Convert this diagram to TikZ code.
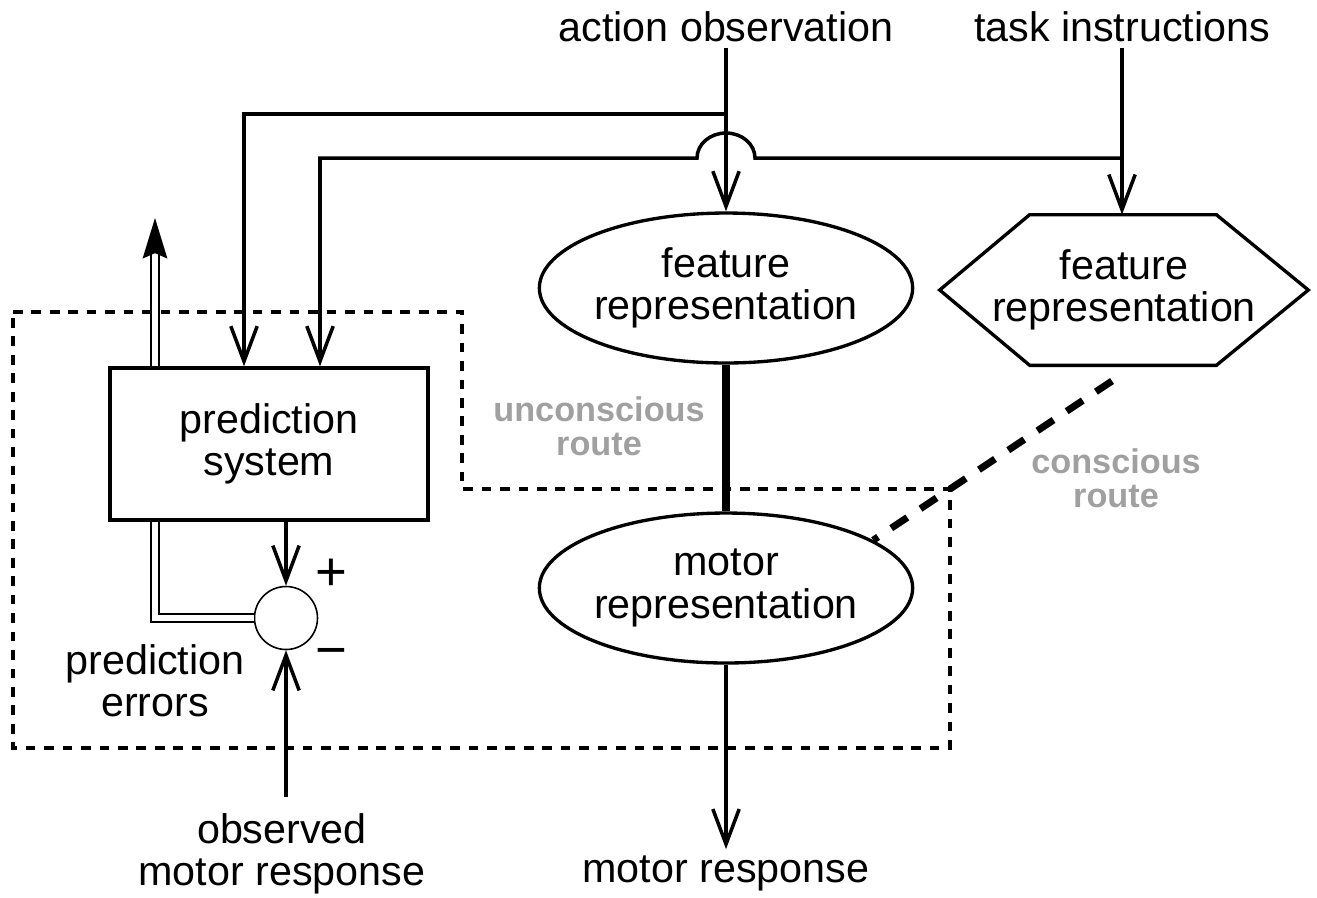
\documentclass[tikz,border=0pt]{standalone}
\usepackage{fontspec}
\setmainfont{Liberation Sans}
\usetikzlibrary{arrows.meta,shapes.geometric}
\definecolor{routegray}{RGB}{160,160,160}

\begin{document}
\begin{tikzpicture}[x=0.02cm, y=-0.02cm,
    every node/.style={font=\fontsize{23.5}{24}\selectfont, align=center},
    arr/.style={line width=2pt, -{Straight Barb[length=20pt,width=15pt]}},
    oval/.style={ellipse, draw, line width=1.9pt, minimum width=7.4cm, minimum height=3cm, inner sep=0pt},
    hexbox/.style={rectangle, minimum width=7.36cm, minimum height=3cm, inner sep=0pt},
    hexline/.style={line width=1.9pt, line join=miter},
    predbox/.style={rectangle, draw, line width=2pt, minimum width=6.36cm, minimum height=3.04cm},
    sumcirc/.style={circle, draw, line width=0.9pt, minimum size=1.26cm, inner sep=0pt},
    signlabel/.style={font=\fontsize{31}{31}\selectfont},
    routelabel/.style={font=\fontsize{19.5}{19.5}\selectfont\bfseries, text=routegray},
    dotframe/.style={line width=2.2pt, dash pattern=on 5.5pt off 5pt},
    dbl/.style={double, line width=1pt, double distance=3.2pt},
    thickroute/.style={line width=4.5pt},
    consroute/.style={line width=4pt, dash pattern=on 11pt off 9pt}]
  \useasboundingbox (0,0) rectangle (1317,897);

  % inputs at the top
  \node (actobs) at (726,27) {action observation};
  \node (taskins) at (1122,27) {task instructions};

  % representations
  \node[oval] (feat) at (726,288) {feature\\representation};
  \node[hexbox] (feathex) at (1124,290) {feature\\representation};
  \draw[hexline] (feathex.west) -- ([xshift=1.8cm]feathex.north west)
    -- ([xshift=-1.84cm]feathex.north east) -- (feathex.east)
    -- ([xshift=-1.84cm]feathex.south east) -- ([xshift=1.8cm]feathex.south west) -- cycle;
  \node[oval] (motor) at (726,588) {motor\\representation};

  % prediction loop
  \node[predbox] (pred) at (269,444) {prediction\\system};
  \node[sumcirc] (sum) at (286,618) {};
  \node[signlabel] (plus) at (331,575) {+};
  \node[signlabel] (minus) at (331,658) {−};
  \node (errors) at (155,681) {prediction\\errors};
  \node (observed) at (282,854) {observed\\motor response};
  \node (response) at (726,873) {motor response};

  % route labels
  \node[routelabel] (uncons) at (599,426) {unconscious\\route};
  \node[routelabel] (cons) at (1116,478) {conscious\\route};

  % dotted frame
  \draw[dotframe] (13,312) -- (462,312) -- (462,489) -- (950,489)
    -- (950,748) -- (13,748) -- cycle;

  \coordinate (abranch) at (726,114);
  \coordinate (tbranch) at (1122,158);
  \coordinate (pin1) at (244,0);
  \coordinate (pin2) at (320,0);
  \coordinate (dblx) at (155,0);
  \coordinate (upend) at (155,218);
  \coordinate (consend) at (1112,381);

  \draw[arr] (actobs) -- (feat);
  \draw[arr] (taskins) -- (taskins |- feathex.north);
  \draw[arr] (abranch) -| (pred.north -| pin1);
  \draw[arr] (tbranch) -- (755,158)
    arc[start angle=0, end angle=-180, x radius=29, y radius=25]
    -| (pred.north -| pin2);

  \draw[dbl, -{Stealth[length=23pt,width=14pt,inset=3pt]}] (pred.north -| dblx) -- (upend);
  \draw[dbl] (pred.south -| dblx) |- (sum.west);
  \draw[arr] (pred.south -| sum) -- (sum.north);
  \draw[arr] ([yshift=6pt]observed.north -| sum) -- (sum.south);

  \draw[thickroute] (feat) -- (motor);
  \draw[arr] (motor) -- (response);
  \draw[consroute] (consend) -- (motor.18);
\end{tikzpicture}
\end{document}
